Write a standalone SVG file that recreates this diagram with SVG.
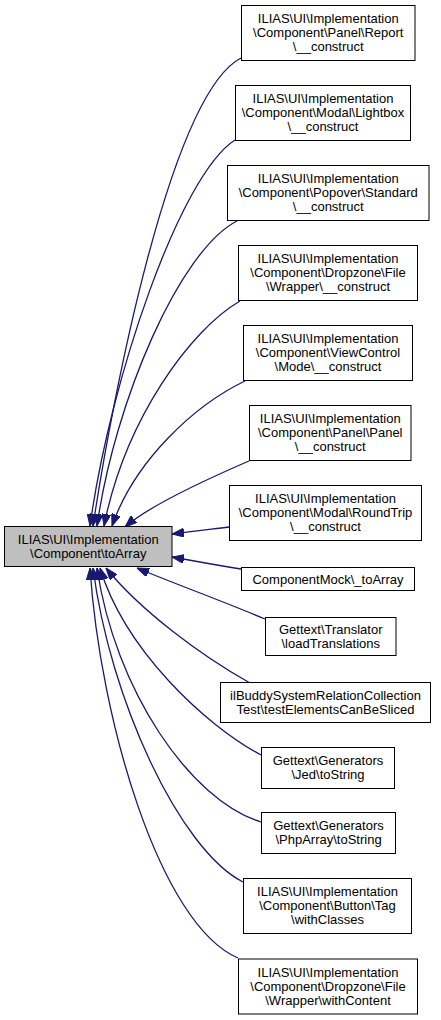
<svg xmlns="http://www.w3.org/2000/svg" width="441" height="1020" viewBox="0 0 441 1020">
<style>
.n rect{fill:#fff;stroke:#000;stroke-width:1}
.n text{font-family:"Liberation Sans",Arial,sans-serif;font-size:13px;text-anchor:middle;fill:#000}
#main rect{fill:#bfbfbf}
.e path{fill:none;stroke:#191970;stroke-width:1.3}
</style>
<defs>
<marker id="ah" viewBox="0 0 12 9" refX="12" refY="4.5" markerWidth="12" markerHeight="9" markerUnits="userSpaceOnUse" orient="auto">
<path d="M0,0 L12,4.5 L0,9 z" fill="#191970" stroke="#191970" stroke-width="1"/>
</marker>
</defs>
<rect width="441" height="1020" fill="#fff"/>
<g id="edges" class="e">
<path marker-end="url(#ah)" d="M241,58 C170,95 112,400 93,526"/>
<path marker-end="url(#ah)" d="M235,140 C180,175 110,380 90,526"/>
<path marker-end="url(#ah)" d="M237,221 C180,250 115,400 97,526"/>
<path marker-end="url(#ah)" d="M240,301 C190,330 125,420 104,526"/>
<path marker-end="url(#ah)" d="M245,381 C195,405 135,460 112,526"/>
<path marker-end="url(#ah)" d="M249,461 C205,480 150,505 125,527"/>
<path marker-end="url(#ah)" d="M229,527 C205,530 190,532 172,534"/>
<path marker-end="url(#ah)" d="M241,569 C215,565 195,561 172,557"/>
<path marker-end="url(#ah)" d="M265,619 C220,600 170,582 137,568"/>
<path marker-end="url(#ah)" d="M250,683 C200,655 140,610 106,568"/>
<path marker-end="url(#ah)" d="M261,755 C205,725 125,650 100,568"/>
<path marker-end="url(#ah)" d="M261,822 C190,800 115,690 97,568"/>
<path marker-end="url(#ah)" d="M243,882 C180,850 110,700 93,568"/>
<path marker-end="url(#ah)" d="M238,958 C160,925 100,720 90,568"/>
</g>
<g id="main" class="n"><rect x="4.5" y="526.5" width="167.5" height="40"/><text x="88.25" y="544">ILIAS\UI\Implementation</text><text x="88.25" y="558">\Component\toArray</text></g>
<g id="n1" class="n"><rect x="241.5" y="5.5" width="173.5" height="55"/><text x="328.25" y="23">ILIAS\UI\Implementation</text><text x="328.25" y="37">\Component\Panel\Report</text><text x="328.25" y="51">\__construct</text></g>
<g id="n2" class="n"><rect x="235.5" y="85.5" width="175" height="55"/><text x="323" y="103">ILIAS\UI\Implementation</text><text x="323" y="117">\Component\Modal\Lightbox</text><text x="323" y="131">\__construct</text></g>
<g id="n3" class="n"><rect x="227.5" y="165.5" width="201.5" height="55"/><text x="328.25" y="183">ILIAS\UI\Implementation</text><text x="328.25" y="197">\Component\Popover\Standard</text><text x="328.25" y="211">\__construct</text></g>
<g id="n4" class="n"><rect x="238.5" y="245.5" width="179" height="55"/><text x="328" y="263">ILIAS\UI\Implementation</text><text x="328" y="277">\Component\Dropzone\File</text><text x="328" y="291">\Wrapper\__construct</text></g>
<g id="n5" class="n"><rect x="243.5" y="325.5" width="169" height="55"/><text x="328" y="343">ILIAS\UI\Implementation</text><text x="328" y="357">\Component\ViewControl</text><text x="328" y="371">\Mode\__construct</text></g>
<g id="n6" class="n"><rect x="249.5" y="405.5" width="161.5" height="55"/><text x="330.25" y="423">ILIAS\UI\Implementation</text><text x="330.25" y="437">\Component\Panel\Panel</text><text x="330.25" y="451">\__construct</text></g>
<g id="n7" class="n"><rect x="229.5" y="485.5" width="192" height="55"/><text x="325.5" y="503">ILIAS\UI\Implementation</text><text x="325.5" y="517">\Component\Modal\RoundTrip</text><text x="325.5" y="531">\__construct</text></g>
<g id="n8" class="n"><rect x="241.5" y="567.5" width="173" height="23"/><text x="328" y="583.5">ComponentMock\_toArray</text></g>
<g id="n9" class="n"><rect x="265.5" y="617.5" width="130.5" height="38"/><text x="330.75" y="633.5">Gettext\Translator</text><text x="330.75" y="647.5">\loadTranslations</text></g>
<g id="n10" class="n"><rect x="220.5" y="682.5" width="210" height="40"/><text x="325.5" y="699.5">ilBuddySystemRelationCollection</text><text x="325.5" y="713.5">Test\testElementsCanBeSliced</text></g>
<g id="n11" class="n"><rect x="261.5" y="747.5" width="133" height="41"/><text x="328" y="765">Gettext\Generators</text><text x="328" y="779">\Jed\toString</text></g>
<g id="n12" class="n"><rect x="261.5" y="812.5" width="134" height="41"/><text x="328.5" y="830">Gettext\Generators</text><text x="328.5" y="844">\PhpArray\toString</text></g>
<g id="n13" class="n"><rect x="243.5" y="878.5" width="168" height="55"/><text x="327.5" y="896">ILIAS\UI\Implementation</text><text x="327.5" y="910">\Component\Button\Tag</text><text x="327.5" y="924">\withClasses</text></g>
<g id="n14" class="n"><rect x="238.5" y="959" width="179" height="55"/><text x="328" y="976.5">ILIAS\UI\Implementation</text><text x="328" y="990.5">\Component\Dropzone\File</text><text x="328" y="1004.5">\Wrapper\withContent</text></g>
</svg>
